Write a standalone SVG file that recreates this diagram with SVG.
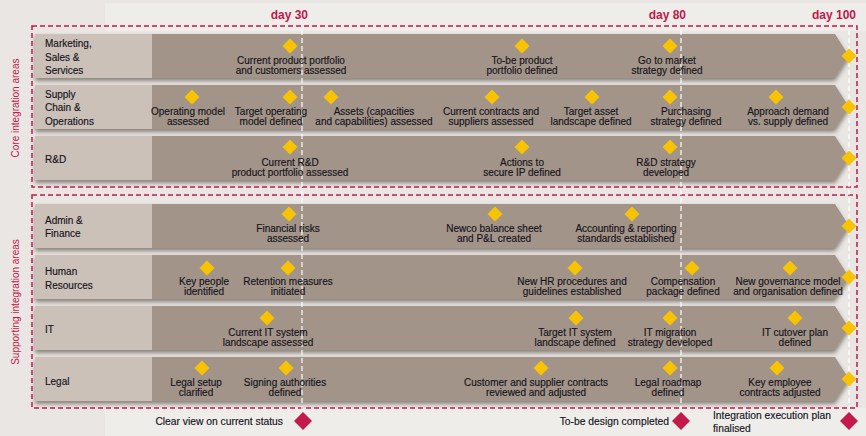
<svg xmlns="http://www.w3.org/2000/svg" xmlns:xlink="http://www.w3.org/1999/xlink" width="866" height="436" viewBox="0 0 866 436">
<defs>
<style>
.lbl{fill:#cbc1b8}
.bar{fill:#a29489}
.t{font-family:"Liberation Sans",Arial,sans-serif;font-size:10px;fill:#15131b;text-anchor:middle;stroke:#15131b;stroke-width:0.15}
.l{font-family:"Liberation Sans",Arial,sans-serif;font-size:10px;fill:#15131b;stroke:#15131b;stroke-width:0.15}
.day{font-family:"Liberation Sans",Arial,sans-serif;font-size:12px;font-weight:bold;fill:#c2184a;text-anchor:end}
.side{font-family:"Liberation Sans",Arial,sans-serif;font-size:10px;fill:#c2184a;text-anchor:middle}
.bt{font-family:"Liberation Sans",Arial,sans-serif;font-size:10.3px;fill:#15131b;stroke:#15131b;stroke-width:0.15}
.rd{fill:none;stroke:#c8174a;stroke-width:1.5;stroke-dasharray:5 3}
.wd{fill:none;stroke:#ffffff;stroke-width:1.2;stroke-dasharray:5 3}
</style>
<path id="d" d="M0,-7.5 L7.5,0 L0,7.5 L-7.5,0Z" fill="#f8c300"/>
<path id="cd" d="M0,-9 L9,0 L0,9 L-9,0Z" fill="#c41a4b"/>
<filter id="sh" x="-5%" y="-20%" width="110%" height="150%">
<feDropShadow dx="0" dy="3" stdDeviation="2" flood-color="#4a4038" flood-opacity="0.6"/>
</filter>
</defs>
<rect width="866" height="436" fill="#e9e6e3"/>
<rect x="105" y="3" width="761" height="28" fill="#efedea"/>
<rect x="105" y="408" width="761" height="28" fill="#efedea"/>

<!-- area frames -->
<g id="frames">
<rect class="rd" x="32" y="26" width="825" height="161"/>
<rect class="rd" x="32" y="195" width="825" height="213"/>
<text class="side" transform="translate(19,108) rotate(-90)">Core integration areas</text>
<text class="side" transform="translate(19,302) rotate(-90)">Supporting integration areas</text>
<text class="day" x="308" y="19">day 30</text>
<text class="day" x="686" y="19">day 80</text>
<text class="day" x="856" y="19">day 100</text>
</g>

<g id="row-marketing" filter="url(#sh)">
<rect class="lbl" x="35" y="34" width="117" height="44"/>
<path class="bar" d="M152,34 H835 L849,56 L835,78 H152Z"/>
</g>
<g id="row-supply" filter="url(#sh)">
<rect class="lbl" x="35" y="85" width="117" height="44"/>
<path class="bar" d="M152,85 H835 L849,107 L835,129 H152Z"/>
</g>
<g id="row-rd" filter="url(#sh)">
<rect class="lbl" x="35" y="136" width="117" height="44"/>
<path class="bar" d="M152,136 H835 L849,158 L835,180 H152Z"/>
</g>
<g id="row-admin" filter="url(#sh)">
<rect class="lbl" x="35" y="204" width="117" height="44"/>
<path class="bar" d="M152,204 H835 L849,226 L835,248 H152Z"/>
</g>
<g id="row-hr" filter="url(#sh)">
<rect class="lbl" x="35" y="255" width="117" height="44"/>
<path class="bar" d="M152,255 H835 L849,277 L835,299 H152Z"/>
</g>
<g id="row-it" filter="url(#sh)">
<rect class="lbl" x="35" y="306" width="117" height="44"/>
<path class="bar" d="M152,306 H835 L849,328 L835,350 H152Z"/>
</g>
<g id="row-legal" filter="url(#sh)">
<rect class="lbl" x="35" y="357" width="117" height="44"/>
<path class="bar" d="M152,357 H835 L849,379 L835,401 H152Z"/>
</g>

<!-- timeline connectors -->
<g id="connectors">
<line class="wd" x1="302" y1="30" x2="302" y2="410"/>
<line class="wd" x1="681" y1="30" x2="681" y2="410"/>
<line class="wd" x1="849" y1="30" x2="849" y2="410"/>
</g>

<!-- row labels -->
<g id="labels">
<text class="l" x="45" y="47">Marketing,</text>
<text class="l" x="45" y="60.5">Sales &amp;</text>
<text class="l" x="45" y="74">Services</text>
<text class="l" x="45" y="97.5">Supply</text>
<text class="l" x="45" y="111">Chain &amp;</text>
<text class="l" x="45" y="124.5">Operations</text>
<text class="l" x="45" y="162.5">R&amp;D</text>
<text class="l" x="45" y="223.5">Admin &amp;</text>
<text class="l" x="45" y="236.5">Finance</text>
<text class="l" x="45" y="275">Human</text>
<text class="l" x="45" y="288.5">Resources</text>
<text class="l" x="45" y="332.5">IT</text>
<text class="l" x="45" y="384.5">Legal</text>
</g>

<g id="m-marketing">
<use href="#d" x="290" y="46"/><text class="t" x="291" y="63.5">Current product portfolio</text><text class="t" x="291" y="74">and customers assessed</text>
<use href="#d" x="522" y="46"/><text class="t" x="522" y="63.5">To-be product</text><text class="t" x="522" y="74">portfolio defined</text>
<use href="#d" x="670" y="46"/><text class="t" x="667" y="63.5">Go to market</text><text class="t" x="667" y="74">strategy defined</text>
<use href="#d" x="849" y="56"/>
</g>
<g id="m-supply">
<use href="#d" x="192" y="97"/><text class="t" x="188" y="114.5">Operating model</text><text class="t" x="188" y="125">assessed</text>
<use href="#d" x="290" y="97"/><text class="t" x="271" y="114.5">Target operating</text><text class="t" x="271" y="125">model defined</text>
<use href="#d" x="331" y="97"/><text class="t" x="374" y="114.5">Assets (capacities</text><text class="t" x="374" y="125">and capabilities) assessed</text>
<use href="#d" x="492" y="97"/><text class="t" x="491" y="114.5">Current contracts and</text><text class="t" x="491" y="125">suppliers assessed</text>
<use href="#d" x="592" y="97"/><text class="t" x="591" y="114.5">Target asset</text><text class="t" x="591" y="125">landscape defined</text>
<use href="#d" x="670" y="97"/><text class="t" x="686" y="114.5">Purchasing</text><text class="t" x="686" y="125">strategy defined</text>
<use href="#d" x="776" y="97"/><text class="t" x="788" y="114.5">Approach demand</text><text class="t" x="788" y="125">vs. supply defined</text>
<use href="#d" x="849" y="107"/>
</g>
<g id="m-rd">
<use href="#d" x="290" y="147"/><text class="t" x="290" y="165.5">Current R&amp;D</text><text class="t" x="290" y="176">product portfolio assessed</text>
<use href="#d" x="522" y="147"/><text class="t" x="522" y="165.5">Actions to</text><text class="t" x="522" y="176">secure IP defined</text>
<use href="#d" x="670" y="147"/><text class="t" x="666" y="165.5">R&amp;D strategy</text><text class="t" x="666" y="176">developed</text>
<use href="#d" x="849" y="158"/>
</g>
<g id="m-admin">
<use href="#d" x="289" y="214"/><text class="t" x="288" y="231.5">Financial risks</text><text class="t" x="288" y="242">assessed</text>
<use href="#d" x="495" y="214"/><text class="t" x="494" y="231.5">Newco balance sheet</text><text class="t" x="494" y="242">and P&amp;L created</text>
<use href="#d" x="632" y="214"/><text class="t" x="626" y="231.5">Accounting &amp; reporting</text><text class="t" x="626" y="242">standards established</text>
<use href="#d" x="849" y="226"/>
</g>
<g id="m-hr">
<use href="#d" x="207" y="268"/><text class="t" x="204" y="284.5">Key people</text><text class="t" x="204" y="295">identified</text>
<use href="#d" x="288" y="268"/><text class="t" x="288" y="284.5">Retention measures</text><text class="t" x="288" y="295">initiated</text>
<use href="#d" x="575" y="268"/><text class="t" x="572" y="284.5">New HR procedures and</text><text class="t" x="572" y="295">guidelines established</text>
<use href="#d" x="692" y="268"/><text class="t" x="683" y="284.5">Compensation</text><text class="t" x="683" y="295">package defined</text>
<use href="#d" x="790" y="268"/><text class="t" x="788" y="284.5">New governance model</text><text class="t" x="788" y="295">and organisation defined</text>
<use href="#d" x="849" y="277"/>
</g>
<g id="m-it">
<use href="#d" x="267" y="318"/><text class="t" x="268" y="335.5">Current IT system</text><text class="t" x="268" y="346">landscape assessed</text>
<use href="#d" x="576" y="318"/><text class="t" x="575" y="335.5">Target IT system</text><text class="t" x="575" y="346">landscape defined</text>
<use href="#d" x="670" y="318"/><text class="t" x="670" y="335.5">IT  migration</text><text class="t" x="670" y="346">strategy developed</text>
<use href="#d" x="795" y="318"/><text class="t" x="795" y="335.5">IT cutover plan</text><text class="t" x="795" y="346">defined</text>
<use href="#d" x="849" y="328"/>
</g>
<g id="m-legal">
<use href="#d" x="202" y="368"/><text class="t" x="196" y="385.5">Legal setup</text><text class="t" x="196" y="396">clarified</text>
<use href="#d" x="286" y="368"/><text class="t" x="285" y="385.5">Signing authorities</text><text class="t" x="285" y="396">defined</text>
<use href="#d" x="541" y="368"/><text class="t" x="536" y="385.5">Customer and supplier contracts</text><text class="t" x="536" y="396">reviewed and adjusted</text>
<use href="#d" x="670" y="368"/><text class="t" x="668" y="385.5">Legal roadmap</text><text class="t" x="668" y="396">defined</text>
<use href="#d" x="777" y="368"/><text class="t" x="780" y="385.5">Key employee</text><text class="t" x="780" y="396">contracts adjusted</text>
<use href="#d" x="849" y="379"/>
</g>

<g id="gate-30">
<text class="bt" x="283" y="425" text-anchor="end">Clear view on current status</text>
<use href="#cd" x="303" y="421"/>
</g>
<g id="gate-80">
<text class="bt" x="669" y="425" text-anchor="end">To-be design completed</text>
<use href="#cd" x="681" y="421"/>
</g>
<g id="gate-100">
<text class="bt" x="713" y="419">Integration execution plan</text>
<text class="bt" x="713" y="432">finalised</text>
<use href="#cd" x="849" y="421"/>
</g>
</svg>
